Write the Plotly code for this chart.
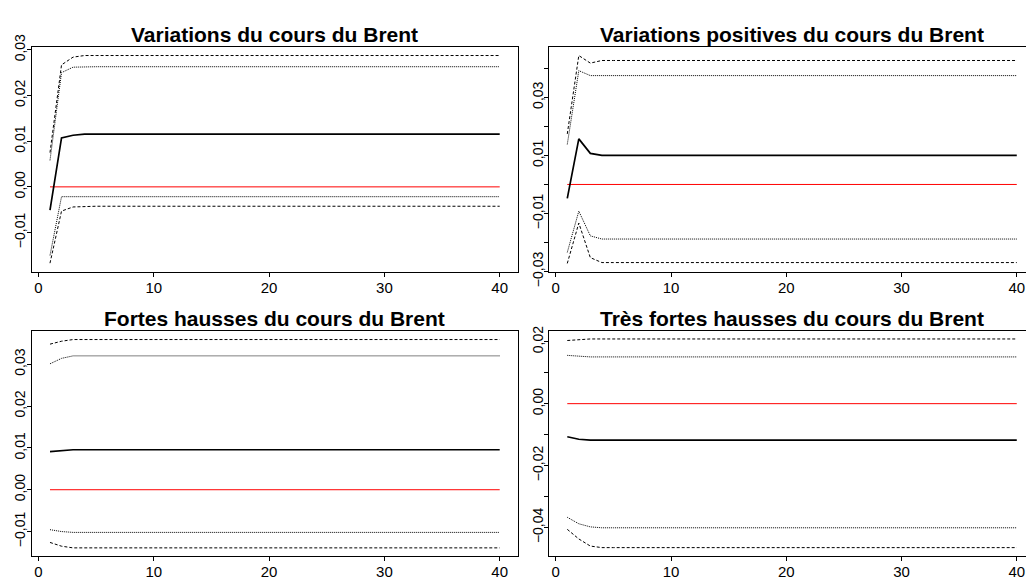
import plotly.graph_objects as go

# Horizon (periods 1..40)
horizon = list(range(1, 41))

# Panel 1: Variations du cours du Brent
p1_irf = [-0.0051, 0.0107, 0.0113] + [0.01153] * 37
p1_up95 = [0.0075, 0.0267, 0.0284] + [0.02875] * 37
p1_up90 = [0.0058, 0.0250, 0.0262] + [0.0263] * 37
p1_lo90 = [-0.0150, -0.00215, -0.00215] + [-0.00215] * 37
p1_lo95 = [-0.0167, -0.0053, -0.0044] + [-0.00424] * 37

# Panel 2: Variations positives du cours du Brent
p2_irf = [-0.0048, 0.0157, 0.0107] + [0.0100] * 37
p2_up95 = [0.0174, 0.0444, 0.0418] + [0.0427] * 37
p2_up90 = [0.0138, 0.0392, 0.0375] + [0.0375] * 37
p2_lo90 = [-0.0234, -0.0092, -0.0177] + [-0.0188] * 37
p2_lo95 = [-0.0272, -0.0133, -0.0252] + [-0.0269] * 37

# Panel 3: Fortes hausses du cours du Brent
p3_irf = [0.0091, 0.0094] + [0.00955] * 38
p3_up95 = [0.0348, 0.0355] + [0.0359] * 38
p3_up90 = [0.0301, 0.0314] + [0.0320] * 38
p3_lo90 = [-0.00955, -0.0100] + [-0.0102] * 38
p3_lo95 = [-0.0126, -0.0135] + [-0.0139] * 38

# Panel 4: Très fortes hausses du cours du Brent
p4_irf = [-0.0107, -0.0115] + [-0.0118] * 38
p4_up95 = [0.0204, 0.0207] + [0.0209] * 38
p4_up90 = [0.0156, 0.0153] + [0.0151] * 38
p4_lo90 = [-0.0367, -0.0388, -0.0398] + [-0.0401] * 37
p4_lo95 = [-0.0406, -0.0437, -0.0460] + [-0.0465] * 37

titles = [
    "Variations du cours du Brent",
    "Variations positives du cours du Brent",
    "Fortes hausses du cours du Brent",
    "Très fortes hausses du cours du Brent",
]

x_tickvals = [0, 10, 20, 30, 40]
x_ticktext = ["0", "10", "20", "30", "40"]

p1_yticks = [-0.01, 0.0, 0.01, 0.02, 0.03]
p1_ylabels = ["−0,01", "0,00", "0,01", "0,02", "0,03"]
p2_yticks = [-0.03, -0.02, -0.01, 0.0, 0.01, 0.02, 0.03, 0.04]
p2_ylabels = ["−0,03", "", "−0,01", "", "0,01", "", "0,03", ""]
p3_yticks = [-0.01, 0.0, 0.01, 0.02, 0.03]
p3_ylabels = ["−0,01", "0,00", "0,01", "0,02", "0,03"]
p4_yticks = [-0.04, -0.03, -0.02, -0.01, 0.0, 0.01, 0.02]
p4_ylabels = ["−0,04", "", "−0,02", "", "0,00", "", "0,02"]

panels = [
    (p1_irf, p1_up95, p1_up90, p1_lo90, p1_lo95, p1_yticks, p1_ylabels),
    (p2_irf, p2_up95, p2_up90, p2_lo90, p2_lo95, p2_yticks, p2_ylabels),
    (p3_irf, p3_up95, p3_up90, p3_lo90, p3_lo95, p3_yticks, p3_ylabels),
    (p4_irf, p4_up95, p4_up90, p4_lo90, p4_lo95, p4_yticks, p4_ylabels),
]

W, H = 1026, 587
# plot-region boxes in pixels: (left, right, top, bottom)
boxes = [
    (32.0, 517.7, 35.7, 272.0),
    (549.3, 1026.0, 35.7, 272.0),
    (32.0, 517.7, 334.3, 570.7),
    (549.3, 1026.0, 334.5, 570.7),
]
x_ranges = [[-0.56, 41.56], [-0.56, 40.8], [-0.56, 41.56], [-0.56, 40.8]]
y_ranges = [
    [-0.01854, 0.03063],
    [-0.03000, 0.04737],
    [-0.015725, 0.037995],
    [-0.04905, 0.02348],
]

fig = go.Figure()
font_family = "Liberation Sans, Arial, Helvetica, sans-serif"

for i, (irf, up95, up90, lo90, lo95, yt, yl) in enumerate(panels):
    n = i + 1
    xa = "x" if n == 1 else f"x{n}"
    ya = "y" if n == 1 else f"y{n}"
    zero = [0.0] * len(horizon)
    fig.add_trace(go.Scatter(x=horizon, y=zero, mode="lines",
                             line=dict(color="#ff0000", width=1),
                             xaxis=xa, yaxis=ya, showlegend=False))
    for vals, dash in ((up95, "3px,2px"), (lo95, "3px,2px"),
                       (up90, "1px,1px"), (lo90, "1px,1px")):
        fig.add_trace(go.Scatter(x=horizon, y=vals, mode="lines",
                                 line=dict(color="black", width=1, dash=dash),
                                 xaxis=xa, yaxis=ya, showlegend=False))
    fig.add_trace(go.Scatter(x=horizon, y=irf, mode="lines",
                             line=dict(color="black", width=1.7),
                             xaxis=xa, yaxis=ya, showlegend=False))

    left, right, top, bottom = boxes[i]
    xkey = "xaxis" if n == 1 else f"xaxis{n}"
    ykey = "yaxis" if n == 1 else f"yaxis{n}"
    full_box = right < W - 1
    fig.update_layout(**{
        xkey: dict(domain=[left / W, min(right / W, 1.0)], anchor=ya,
                   range=x_ranges[i], tickvals=x_tickvals, ticktext=x_ticktext,
                   showgrid=False, zeroline=False, showline=True,
                   linecolor="black", linewidth=1, mirror=True,
                   ticks="outside", ticklen=4, tickcolor="black",
                   ticklabelstandoff=-2,
                   tickfont=dict(size=15, color="black", family=font_family)),
        ykey: dict(domain=[1 - bottom / H, 1 - top / H], anchor=xa,
                   range=y_ranges[i], tickvals=yt, ticktext=yl,
                   showgrid=False, zeroline=False, showline=True,
                   linecolor="black", linewidth=1, mirror=full_box,
                   ticks="outside", ticklen=4, tickcolor="black", tickangle=-90,
                   ticklabelstandoff=-4,
                   tickfont=dict(size=14, color="black", family=font_family)),
    })
    fig.add_annotation(text=f"<b>{titles[i]}</b>", xref=xa, x=20.5,
                       yref=f"{ya} domain", y=1, yanchor="bottom", xanchor="center",
                       showarrow=False, yshift=-1,
                       font=dict(size=21, color="black", family=font_family))

fig.update_layout(width=W, height=H, margin=dict(l=0, r=0, t=0, b=0),
                  plot_bgcolor="white", paper_bgcolor="white",
                  font=dict(family=font_family, color="black"))

fig.write_html("out.html")
